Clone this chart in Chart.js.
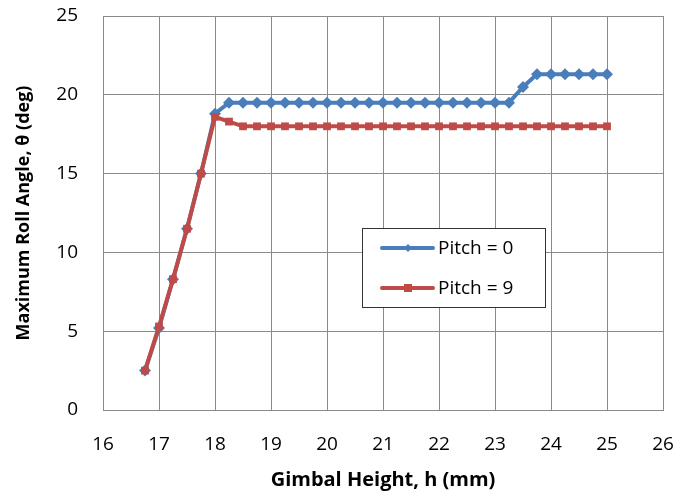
<!DOCTYPE html>
<html>
<head>
<meta charset="utf-8">
<script src="https://cdn.jsdelivr.net/npm/chart.js@4/dist/chart.umd.min.js"></script>
<style>
  html, body { margin: 0; padding: 0; background: #fff; }
  #wrap { width: 693px; height: 494px; }
</style>
</head>
<body>
<div id="wrap"><canvas id="rollChart"></canvas></div>
<script>
// Gimbal height (mm), step 0.25
const heights = [16.75, 17, 17.25, 17.5, 17.75, 18, 18.25, 18.5, 18.75, 19, 19.25, 19.5, 19.75,
    20, 20.25, 20.5, 20.75, 21, 21.25, 21.5, 21.75, 22, 22.25, 22.5, 22.75, 23, 23.25,
    23.5, 23.75, 24, 24.25, 24.5, 24.75, 25];

// Maximum roll angle (deg)
const pitch0 = [2.5, 5.2, 8.3, 11.5, 15.0, 18.8, 19.5, 19.5, 19.5, 19.5, 19.5, 19.5, 19.5,
    19.5, 19.5, 19.5, 19.5, 19.5, 19.5, 19.5, 19.5, 19.5, 19.5, 19.5, 19.5, 19.5, 19.5,
    20.5, 21.3, 21.3, 21.3, 21.3, 21.3, 21.3];
const pitch9 = [2.5, 5.3, 8.3, 11.5, 15.0, 18.6, 18.3, 18.0, 18.0, 18.0, 18.0, 18.0, 18.0,
    18.0, 18.0, 18.0, 18.0, 18.0, 18.0, 18.0, 18.0, 18.0, 18.0, 18.0, 18.0, 18.0, 18.0,
    18.0, 18.0, 18.0, 18.0, 18.0, 18.0, 18.0];

const seriesLabels = ['Pitch = 0', 'Pitch = 9'];
const xTicks = [16, 17, 18, 19, 20, 21, 22, 23, 24, 25, 26];
const yTicks = [0, 5, 10, 15, 20, 25];

const BLUE = '#4a7ebb';
const RED = '#be4b48';
const GRID = '#8a8a8a';
const FONT = '"Open Sans", "Liberation Sans", sans-serif';

function toPoints(values) {
    return heights.map((h, i) => ({ x: h, y: values[i] }));
}

// Legend box drawn inside the plot, like the Excel original
const boxLegend = {
    id: 'boxLegend',
    afterDatasetsDraw(chart) {
        const ctx = chart.ctx;
        const left = 362, top = 228, w = 183, h = 79;
        ctx.save();
        ctx.fillStyle = '#fff';
        ctx.fillRect(left, top, w, h);
        ctx.strokeStyle = '#333';
        ctx.lineWidth = 1;
        ctx.strokeRect(left + 0.5, top + 0.5, w, h);
        chart.data.datasets.forEach((ds, i) => {
            const y = top + 20 + i * 40;
            ctx.strokeStyle = ds.borderColor;
            ctx.lineWidth = 4;
            ctx.lineCap = 'round';
            ctx.beginPath();
            ctx.moveTo(382, y);
            ctx.lineTo(433, y);
            ctx.stroke();
            ctx.fillStyle = ds.borderColor;
            if (ds.pointStyle === 'rectRot') {
                ctx.beginPath();
                ctx.moveTo(408, y - 4);
                ctx.lineTo(412, y);
                ctx.lineTo(408, y + 4);
                ctx.lineTo(404, y);
                ctx.closePath();
                ctx.fill();
            } else {
                ctx.fillRect(404, y - 4, 8, 8);
            }
            ctx.fillStyle = '#000';
            ctx.font = '19px ' + FONT;
            ctx.textBaseline = 'middle';
            ctx.fillText(ds.label, 438, y + 1);
        });
        ctx.restore();
    }
};

const ctx = document.getElementById('rollChart').getContext('2d');
new Chart(ctx, {
    type: 'line',
    data: {
        datasets: [{
            label: seriesLabels[0],
            data: toPoints(pitch0),
            borderColor: BLUE,
            backgroundColor: BLUE,
            borderWidth: 4,
            pointStyle: 'rectRot',
            pointRadius: 6,
            pointBorderWidth: 0,
            order: 2
        }, {
            label: seriesLabels[1],
            data: toPoints(pitch9),
            borderColor: RED,
            backgroundColor: RED,
            borderWidth: 4,
            pointStyle: 'rect',
            pointRadius: 5.5,
            pointBorderWidth: 0,
            order: 1
        }]
    },
    options: {
        responsive: true,
        maintainAspectRatio: false,
        animation: false,
        layout: { padding: { top: 16, right: 30, left: 0, bottom: 0 } },
        scales: {
            x: {
                type: 'linear',
                min: 16,
                max: 26,
                afterBuildTicks: (scale) => { scale.ticks = xTicks.map(v => ({ value: v })); },
                afterFit: (scale) => { scale.height = 84; scale.paddingLeft = 0; scale.paddingRight = 0; },
                grid: { color: GRID, lineWidth: 1, drawTicks: false },
                border: { color: GRID, width: 1 },
                ticks: { color: '#000', padding: 23, font: { family: FONT, size: 19 } },
                title: {
                    display: true,
                    text: 'Gimbal Height, h (mm)',
                    color: '#000',
                    padding: { top: 6, bottom: 2 },
                    font: { family: FONT, size: 20, weight: 'bold' }
                }
            },
            y: {
                min: 0,
                max: 25,
                afterBuildTicks: (scale) => { scale.ticks = yTicks.map(v => ({ value: v })); },
                afterFit: (scale) => { scale.width = 103; scale.paddingTop = 0; scale.paddingBottom = 0; },
                grid: { color: GRID, lineWidth: 1, drawTicks: false },
                border: { color: GRID, width: 1 },
                ticks: { color: '#000', padding: 25, font: { family: FONT, size: 19 } },
                title: {
                    display: true,
                    text: 'Maximum Roll Angle, θ (deg)',
                    color: '#000',
                    padding: { top: 13, bottom: 0 },
                    font: { family: FONT, size: 18, weight: 'bold' }
                }
            }
        },
        plugins: {
            legend: { display: false },
            tooltip: { enabled: false }
        }
    },
    plugins: [boxLegend]
});
</script>
</body>
</html>
